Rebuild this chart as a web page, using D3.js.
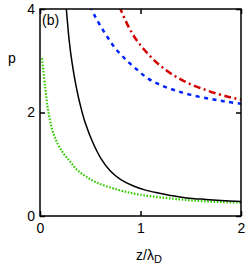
<!DOCTYPE html>
<html>
<head>
<meta charset="utf-8">
<script src="https://cdn.jsdelivr.net/npm/d3@7"></script>
<style>
  body { margin: 0; background: #fff; }
  svg text { font-family: "Liberation Sans", Arial, Helvetica, sans-serif; }
</style>
</head>
<body>
<div id="chart"></div>
<script>
// values
const xTicks = [0, 1, 2];
const yTicks = [0, 2, 4];

const zBlack = [0.26, 0.29, 0.32, 0.36, 0.40, 0.45, 0.53, 0.61, 0.70, 0.80, 0.93, 1.05, 1.19, 1.32, 1.46, 1.65, 1.80, 2.00];
const pBlack = [4.05, 3.40, 2.95, 2.50, 2.15, 1.80, 1.40, 1.10, 0.87, 0.71, 0.58, 0.50, 0.44, 0.39, 0.35, 0.32, 0.30, 0.28];

const zGreen = [0.02, 0.05, 0.08, 0.12, 0.17, 0.23, 0.30, 0.37, 0.46, 0.56, 0.70, 0.85, 1.00, 1.20, 1.40, 1.60, 1.80, 2.00];
const pGreen = [3.05, 2.52, 2.05, 1.68, 1.42, 1.22, 1.05, 0.89, 0.76, 0.65, 0.55, 0.47, 0.41, 0.36, 0.32, 0.29, 0.27, 0.26];

const zBlue = [0.50, 0.55, 0.65, 0.75, 0.86, 0.97, 1.08, 1.20, 1.34, 1.50, 1.70, 1.85, 2.00];
const pBlue = [4.05, 3.85, 3.52, 3.24, 3.01, 2.82, 2.65, 2.53, 2.43, 2.34, 2.26, 2.21, 2.17];

const zRed = [0.79, 0.85, 0.92, 1.00, 1.10, 1.20, 1.32, 1.46, 1.60, 1.75, 1.90, 2.00];
const pRed = [4.05, 3.78, 3.52, 3.30, 3.08, 2.90, 2.73, 2.58, 2.47, 2.37, 2.29, 2.25];

const W = 249, H = 269;
const margin = { top: 9, right: 8, bottom: 53, left: 40 };
const width = W - margin.left - margin.right;
const height = H - margin.top - margin.bottom;

const svg = d3.select("#chart").append("svg")
    .attr("width", W)
    .attr("height", H);

const g = svg.append("g")
    .attr("transform", `translate(${margin.left},${margin.top})`);

const x = d3.scaleLinear().domain([0, 2]).range([0, width]);
const y = d3.scaleLinear().domain([0, 4]).range([height, 0]);

g.append("clipPath").attr("id", "clip")
    .append("rect").attr("width", width).attr("height", height);

const series = [
    { z: zGreen, p: pGreen, color: "#33cc00", dash: "1.6,1.6", w: 2.2 },
    { z: zBlack, p: pBlack, color: "#000", dash: null, w: 1.5 },
    { z: zBlue, p: pBlue, color: "#0022ff", dash: "4,4.5", w: 2.5 },
    { z: zRed, p: pRed, color: "#d40000", dash: "7,3.5,2,3.5", w: 2.5 }
];

const line = d3.line()
    .x(d => x(d[0]))
    .y(d => y(d[1]))
    .curve(d3.curveCatmullRom.alpha(0.5));

series.forEach(s => {
    g.append("path")
        .datum(s.z.map((z, i) => [z, s.p[i]]))
        .attr("clip-path", "url(#clip)")
        .attr("fill", "none")
        .attr("stroke", s.color)
        .attr("stroke-width", s.w)
        .attr("stroke-dasharray", s.dash)
        .attr("d", line);
});

// axes with inward ticks
const axB = g.append("g").attr("transform", `translate(0,${height})`)
    .call(d3.axisBottom(x).tickValues(xTicks).tickSize(-5).tickPadding(7).tickFormat(d3.format("d")));
const axL = g.append("g")
    .call(d3.axisLeft(y).tickValues(yTicks).tickSize(-5).tickPadding(5).tickFormat(d3.format("d")));
const axT = g.append("g")
    .call(d3.axisTop(x).tickValues(xTicks).tickSize(-5).tickFormat(""));
const axR = g.append("g").attr("transform", `translate(${width},0)`)
    .call(d3.axisRight(y).tickValues(yTicks).tickSize(-5).tickFormat(""));

[axB, axL, axT, axR].forEach(a => {
    a.select(".domain").remove();
    a.selectAll("line").attr("stroke", "#000").attr("stroke-width", 1.5);
    a.selectAll("text").attr("fill", "#000").style("font-size", "14px");
});

g.append("rect")
    .attr("width", width)
    .attr("height", height)
    .attr("fill", "none")
    .attr("stroke", "#000")
    .attr("stroke-width", 1.5);

g.append("text")
    .attr("x", 2)
    .attr("y", 16)
    .style("font-size", "14px")
    .text("(b)");

svg.append("text")
    .attr("x", 12)
    .attr("y", 63)
    .attr("text-anchor", "middle")
    .style("font-size", "14px")
    .text("p");

const xl = svg.append("text")
    .attr("x", 149)
    .attr("y", 260)
    .attr("text-anchor", "middle")
    .style("font-size", "14px");
xl.append("tspan").text("z/λ");
xl.append("tspan").attr("dy", 3).style("font-size", "11px").text("D");
</script>
</body>
</html>
